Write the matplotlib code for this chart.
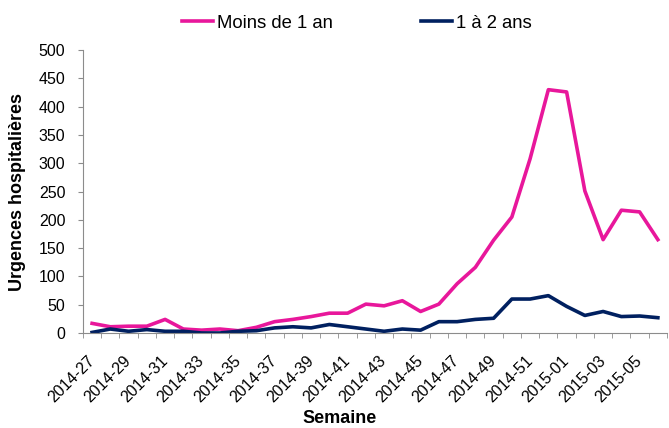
import matplotlib.pyplot as plt
import numpy as np

weeks = ["2014-%02d" % w for w in range(27, 53)] + ["2015-%02d" % w for w in range(1, 7)]
moins_1an = [17, 11, 12, 12, 24, 7, 5, 7, 4, 10, 20, 24, 29, 35, 35, 51,
             48, 57, 38, 51, 87, 116, 164, 205, 308, 430, 426, 251, 165, 217, 214, 165]
un_a_2ans = [1, 7, 3, 6, 3, 3, 0, 0, 3, 4, 9, 11, 9, 15, 11, 7,
             3, 7, 5, 20, 20, 24, 26, 60, 60, 66, 47, 31, 38, 29, 30, 27]

pink = "#E8179B"
navy = "#002060"
grey = "#8C8C8C"

plt.rcParams['font.family'] = ['Liberation Sans', 'DejaVu Sans']

fig = plt.figure(figsize=(6.69, 4.28), dpi=100)
ax = fig.add_axes([0.124, 0.222, 0.873, 0.661])

x = np.arange(len(weeks))
ax.plot(x, moins_1an, color=pink, lw=2.6, label="Moins de 1 an")
ax.plot(x, un_a_2ans, color=navy, lw=2.6, label="1 à 2 ans")

ax.set_xlim(-0.5, len(weeks) - 0.5)
ax.set_ylim(0, 500)
ax.set_yticks(range(0, 501, 50))
ax.tick_params(axis='y', labelsize=11.5, color=grey, length=3.6, direction='out', pad=9)

ax.set_xticks(x[::2])
ax.set_xticklabels(weeks[::2], rotation=45, ha='right', va='center',
                   rotation_mode='anchor', fontsize=11.5)
ax.tick_params(axis='x', which='major', length=0, pad=18)
ax.set_xticks(np.arange(len(weeks) + 1) - 0.5, minor=True)
ax.tick_params(axis='x', which='minor', length=3.6, color=grey)

for s in ['top', 'right']:
    ax.spines[s].set_visible(False)
for s in ['left', 'bottom']:
    ax.spines[s].set_color(grey)

ax.set_ylabel("Urgences hospitalières", fontsize=13, fontweight='bold')
ax.yaxis.set_label_coords(-0.097, 0.5)
ax.set_xlabel("Semaine", fontsize=13, fontweight='bold', va='center')
ax.xaxis.set_label_coords(0.44, -0.304)

fig.legend(loc='center left', bbox_to_anchor=(0.272, 0.946), ncol=2, frameon=False,
           fontsize=13.3, handlelength=1.68, columnspacing=4.8, handletextpad=0.2,
           borderpad=0, borderaxespad=0)

fig.savefig("out.png", dpi=100)
